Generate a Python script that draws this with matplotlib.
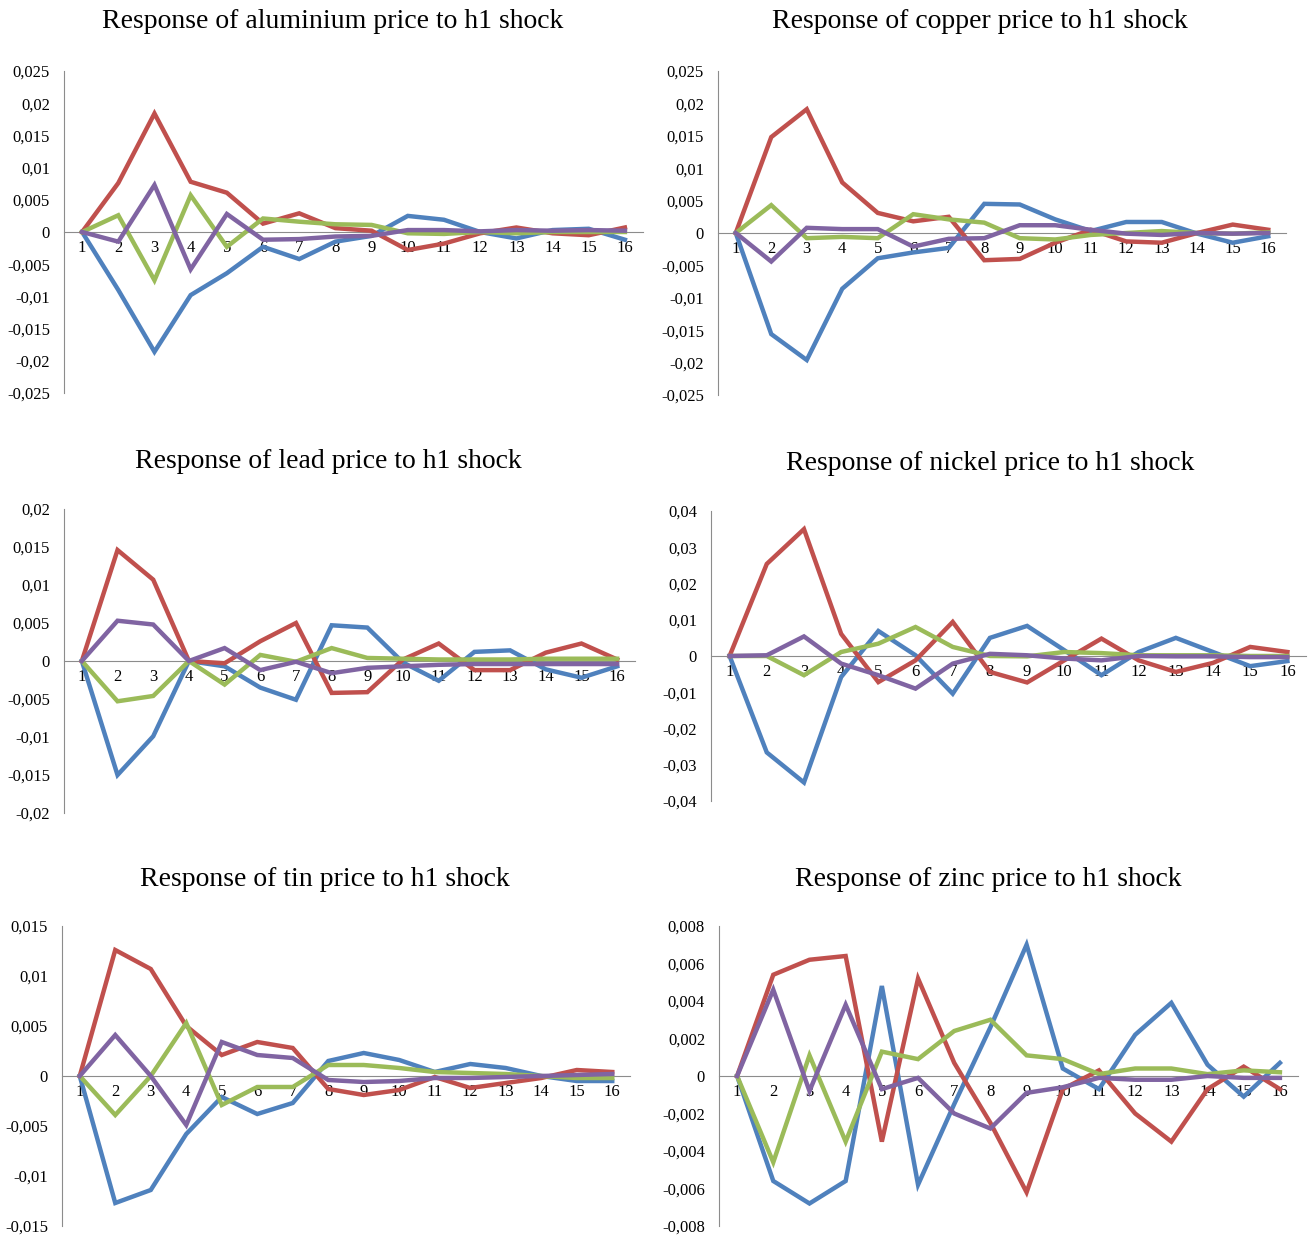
import matplotlib
matplotlib.use("Agg")
import matplotlib.pyplot as plt
from matplotlib.ticker import FuncFormatter, MultipleLocator

plt.rcParams['font.family'] = ['Liberation Serif', 'DejaVu Serif']

periods = list(range(1, 17))

titles = [
    "Response of aluminium price to h1 shock",
    "Response of copper price to h1 shock",
    "Response of lead price to h1 shock",
    "Response of nickel price to h1 shock",
    "Response of tin price to h1 shock",
    "Response of zinc price to h1 shock",
]

# series order: blue, red, green, purple
alu_blue   = [0, -0.0090, -0.0186, -0.0098, -0.0064, -0.0023, -0.0042, -0.0015, -0.0006, 0.0025, 0.0019, 0.0000, -0.0010, 0.0003, 0.0005, -0.0012]
alu_red    = [0, 0.0076, 0.0184, 0.0078, 0.0061, 0.0013, 0.0029, 0.0006, 0.0002, -0.0028, -0.0018, -0.0002, 0.0007, -0.0002, -0.0005, 0.0007]
alu_green  = [0, 0.0026, -0.0075, 0.0057, -0.0023, 0.0021, 0.0016, 0.0012, 0.0011, -0.0002, -0.0003, 0.0000, -0.0002, 0.0000, 0.0000, 0.0000]
alu_purple = [0, -0.0015, 0.0073, -0.0058, 0.0028, -0.0012, -0.0011, -0.0007, -0.0006, 0.0003, 0.0003, 0.0001, 0.0003, 0.0002, 0.0003, 0.0002]

cop_blue   = [0, -0.0156, -0.0196, -0.0086, -0.0039, -0.0030, -0.0023, 0.0045, 0.0044, 0.0021, 0.0003, 0.0017, 0.0017, -0.0001, -0.0015, -0.0005]
cop_red    = [0, 0.0148, 0.0191, 0.0078, 0.0031, 0.0018, 0.0025, -0.0042, -0.0040, -0.0015, 0.0005, -0.0013, -0.0015, 0.0000, 0.0013, 0.0005]
cop_green  = [0, 0.0043, -0.0008, -0.0006, -0.0008, 0.0029, 0.0021, 0.0016, -0.0008, -0.0010, -0.0003, 0.0000, 0.0003, 0.0000, -0.0001, 0.0001]
cop_purple = [0, -0.0044, 0.0008, 0.0006, 0.0006, -0.0021, -0.0009, -0.0008, 0.0012, 0.0012, 0.0005, -0.0001, -0.0003, 0.0000, -0.0001, 0.0000]

lead_blue   = [0, -0.0150, -0.0099, 0.0000, -0.0007, -0.0035, -0.0051, 0.0047, 0.0044, -0.0002, -0.0026, 0.0012, 0.0014, -0.0011, -0.0022, -0.0007]
lead_red    = [0, 0.0146, 0.0107, 0.0000, -0.0003, 0.0026, 0.0050, -0.0042, -0.0041, 0.0002, 0.0023, -0.0012, -0.0012, 0.0011, 0.0023, 0.0002]
lead_green  = [0, -0.0053, -0.0046, 0.0000, -0.0031, 0.0008, -0.0001, 0.0017, 0.0004, 0.0003, 0.0002, 0.0002, 0.0002, 0.0003, 0.0003, 0.0003]
lead_purple = [0, 0.0053, 0.0048, 0.0000, 0.0017, -0.0012, -0.0001, -0.0016, -0.0009, -0.0007, -0.0005, -0.0004, -0.0004, -0.0004, -0.0004, -0.0004]

nick_blue   = [0, -0.0266, -0.0349, -0.0058, 0.0069, 0.0002, -0.0104, 0.0050, 0.0083, 0.0016, -0.0053, 0.0011, 0.0050, 0.0011, -0.0028, -0.0014]
nick_red    = [0, 0.0254, 0.0350, 0.0061, -0.0072, -0.0012, 0.0094, -0.0044, -0.0073, -0.0012, 0.0048, -0.0012, -0.0044, -0.0019, 0.0025, 0.0011]
nick_green  = [0, 0.0000, -0.0053, 0.0011, 0.0034, 0.0080, 0.0025, 0.0000, -0.0001, 0.0011, 0.0008, 0.0002, 0.0002, 0.0002, 0.0000, 0.0000]
nick_purple = [0, 0.0002, 0.0054, -0.0021, -0.0053, -0.0090, -0.0021, 0.0006, 0.0002, -0.0007, -0.0012, 0.0000, -0.0001, -0.0001, -0.0003, -0.0003]

tin_blue   = [0, -0.0127, -0.0114, -0.0058, -0.0021, -0.0038, -0.0027, 0.0015, 0.0023, 0.0016, 0.0004, 0.0012, 0.0008, 0.0000, -0.0005, -0.0005]
tin_red    = [0, 0.0126, 0.0107, 0.0050, 0.0021, 0.0034, 0.0028, -0.0013, -0.0019, -0.0014, -0.0001, -0.0012, -0.0007, -0.0002, 0.0006, 0.0004]
tin_green  = [0, -0.0039, 0.0000, 0.0053, -0.0029, -0.0011, -0.0011, 0.0011, 0.0011, 0.0008, 0.0004, 0.0003, 0.0002, 0.0000, -0.0002, -0.0002]
tin_purple = [0, 0.0041, 0.0000, -0.0049, 0.0034, 0.0021, 0.0018, -0.0004, -0.0006, -0.0005, -0.0002, -0.0002, -0.0001, 0.0000, 0.0001, 0.0002]

zinc_blue   = [0, -0.0056, -0.0068, -0.0056, 0.0048, -0.0058, -0.0015, 0.0026, 0.0070, 0.0004, -0.0007, 0.0022, 0.0039, 0.0006, -0.0011, 0.0007]
zinc_red    = [0, 0.0054, 0.0062, 0.0064, -0.0035, 0.0052, 0.0007, -0.0025, -0.0062, -0.0007, 0.0003, -0.0020, -0.0035, -0.0007, 0.0005, -0.0007]
zinc_green  = [0, -0.0046, 0.0011, -0.0035, 0.0013, 0.0009, 0.0024, 0.0030, 0.0011, 0.0009, 0.0001, 0.0004, 0.0004, 0.0001, 0.0003, 0.0002]
zinc_purple = [0, 0.0046, -0.0008, 0.0038, -0.0007, -0.0001, -0.0020, -0.0028, -0.0009, -0.0006, -0.0001, -0.0002, -0.0002, 0.0000, -0.0001, -0.0001]

panel_series = [
    (alu_blue, alu_red, alu_green, alu_purple),
    (cop_blue, cop_red, cop_green, cop_purple),
    (lead_blue, lead_red, lead_green, lead_purple),
    (nick_blue, nick_red, nick_green, nick_purple),
    (tin_blue, tin_red, tin_green, tin_purple),
    (zinc_blue, zinc_red, zinc_green, zinc_purple),
]
y_limits = [(-0.025, 0.025), (-0.025, 0.025), (-0.02, 0.02), (-0.04, 0.04), (-0.015, 0.015), (-0.008, 0.008)]
y_steps = [0.005, 0.005, 0.005, 0.01, 0.005, 0.002]

colors = ['#4F81BD', '#C0504D', '#9BBB59', '#8064A2']
axis_col = '#8C8C8C'

W, H = 1309, 1237
fig = plt.figure(figsize=(W / 100, H / 100), dpi=100)

# pixel boxes: left, right, top, bottom
boxes = [
    (64, 643, 71, 393),
    (718, 1286, 71, 395),
    (64, 635, 509, 813),
    (711, 1306, 511, 801),
    (62, 630, 926, 1226),
    (719, 1298, 926, 1226),
]
title_pos = [(333, 22), (980, 22), (328, 462), (990, 463), (325, 880), (988, 880)]


def fmt(v, pos):
    if abs(v) < 1e-12:
        return '0'
    return ('%g' % round(v, 6)).replace('.', ',')


for i in range(6):
    l, r, t, b = boxes[i]
    ax = fig.add_axes([l / W, 1 - b / H, (r - l) / W, (b - t) / H])
    for s, c in zip(panel_series[i], colors):
        ax.plot(periods, s, color=c, lw=3.2, solid_joinstyle='miter', zorder=3)
    ax.set_xlim(0.5, 16.5)
    ax.set_ylim(*y_limits[i])
    ax.yaxis.set_major_locator(MultipleLocator(y_steps[i]))
    ax.yaxis.set_major_formatter(FuncFormatter(fmt))
    ax.set_xticks(periods)
    ax.set_xticklabels([str(p) for p in periods])
    ax.spines['top'].set_visible(False)
    ax.spines['right'].set_visible(False)
    ax.spines['bottom'].set_position(('data', 0))
    ax.spines['bottom'].set_color(axis_col)
    ax.spines['left'].set_color(axis_col)
    ax.spines['bottom'].set_zorder(2)
    ax.tick_params(axis='both', length=0, labelsize=12)
    ax.tick_params(axis='y', pad=10)
    ax.tick_params(axis='x', pad=6)
    ax.set_facecolor('none')
    tx, ty = title_pos[i]
    fig.text(tx / W, 1 - ty / H, titles[i], ha='center', va='center', fontsize=20)

fig.savefig('out.png', dpi=100)
